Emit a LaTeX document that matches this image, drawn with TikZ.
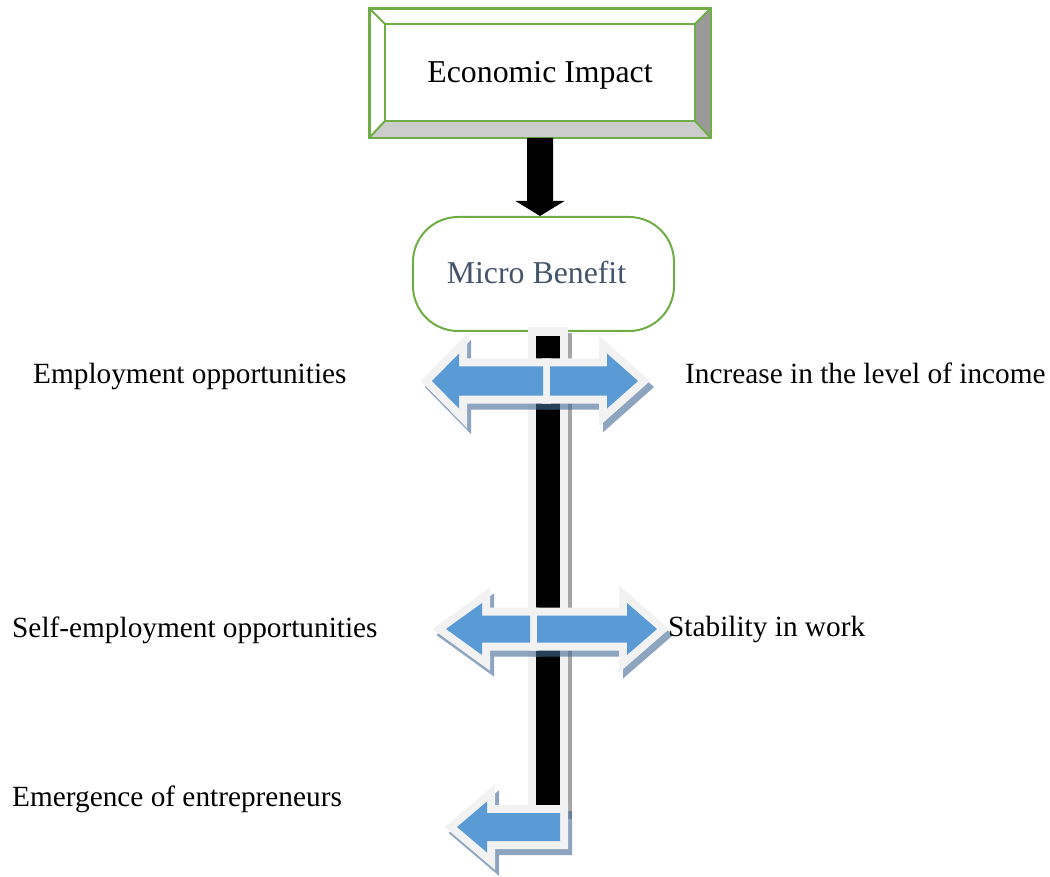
\documentclass[tikz,border=0pt]{standalone}
\usepackage{fontspec}
\setmainfont{Liberation Serif}
\usetikzlibrary{calc}
\definecolor{grn}{HTML}{70AD47}
\definecolor{blu}{HTML}{5B9BD5}
\definecolor{pale}{HTML}{F2F2F2}
\definecolor{shd}{RGB}{67,105,148}
\definecolor{slate}{HTML}{44546A}
\definecolor{bevdark}{HTML}{999999}
\definecolor{bevlight}{HTML}{CCCCCC}
\definecolor{barshd}{HTML}{A6A6A6}
\tikzset{
  arrshape/.style n args={6}{insert path={(#1,#4) -- (#2,{#4-#5}) -- (#2,{#4-#6}) -- (#3,{#4-#6}) -- (#3,{#4+#6}) -- (#2,{#4+#6}) -- (#2,{#4+#5}) -- cycle}},
  lbl/.style={inner sep=0pt, anchor=base west, font=\fontsize{29.3}{34}\selectfont},
  econbox/.style={draw=grn, line width=2pt, minimum width=340pt, minimum height=128pt, inner sep=0pt, text height=25pt, text depth=5pt, font=\fontsize{31.8}{36}\selectfont},
  microbox/.style={draw=grn, line width=2pt, rectangle, rounded corners=45pt, minimum width=261pt, minimum height=114pt, inner sep=0pt, text height=25pt, text depth=5pt, text=slate, font=\fontsize{31.8}{36}\selectfont},
  outl/.style={draw=pale, line width=16pt, miter limit=10, line join=miter},
  shdpath/.style={fill=shd, draw=shd, line width=16pt, line join=miter},
}
\begin{document}
\begin{tikzpicture}[x=1pt,y=-1pt]
\useasboundingbox (0,0) rectangle (1050,877);
% top box
\node[econbox] (econ) at (540,73) {Economic Impact};
\coordinate (oNW) at (econ.north west);
\coordinate (oNE) at (econ.north east);
\coordinate (oSE) at (econ.south east);
\coordinate (oSW) at (econ.south west);
\coordinate (iNW) at ($(oNW)+(16,16)$);
\coordinate (iNE) at ($(oNE)+(-16,16)$);
\coordinate (iSE) at ($(oSE)+(-16,-17)$);
\coordinate (iSW) at ($(oSW)+(16,-17)$);
\fill[bevdark] (oNE) -- (oSE) -- (iSE) -- (iNE) -- cycle;
\fill[bevlight] (oSW) -- (oSE) -- (iSE) -- (iSW) -- cycle;
\draw[grn, line width=2pt] (iNW) rectangle (iSE);
\draw[grn, line width=2pt] (oNW) -- (iNW) (oNE) -- (iNE) (oSE) -- (iSE) (oSW) -- (iSW);
\draw[grn, line width=2pt] (oNW) rectangle (oSE);
% micro benefit
\node[microbox] (micro) at (543.5,274) {\hspace*{-14pt}Micro Benefit};
% black arrow
\fill[black] ([xshift=-13pt]econ.south) -- ([xshift=13pt]econ.south) -- ($(econ.south)+(13,63)$) -- ($(econ.south)+(24.5,63)$) -- (econ.south |- micro.north) -- ($(econ.south)+(-24.5,63)$) -- ($(econ.south)+(-13,63)$) -- cycle;
% vertical bar
\fill[barshd] (532,333) rectangle (572,819);
\fill[pale] (528,327) rectangle (568,813);
\fill[black] (536,336) rectangle (560,805);
% arrow shadows
\begin{scope}[transparency group, opacity=0.6]
\begin{scope}[shift={(4,6)}]
\path[shdpath, arrshape={432}{459}{543}{381}{27.5}{14.5}];
\path[shdpath, arrshape={638}{607}{550}{381}{27.5}{14.5}];
\path[shdpath, arrshape={446}{482}{530}{629}{26}{13.5}];
\path[shdpath, arrshape={657}{627}{537}{629}{26}{13.5}];
\path[shdpath, arrshape={457}{487}{560}{827}{25.5}{14}];
\end{scope}
\end{scope}
% outlines
\path[outl, arrshape={432}{459}{543}{381}{27.5}{14.5}];
\path[outl, arrshape={638}{607}{550}{381}{27.5}{14.5}];
\path[outl, arrshape={446}{482}{530}{629}{26}{13.5}];
\path[outl, arrshape={657}{627}{537}{629}{26}{13.5}];
\path[outl, arrshape={457}{487}{560}{827}{25.5}{14}];
% fills
\fill[blu, arrshape={432}{459}{543}{381}{27.5}{14.5}];
\fill[blu, arrshape={638}{607}{550}{381}{27.5}{14.5}];
\fill[blu, arrshape={446}{482}{530}{629}{26}{13.5}];
\fill[blu, arrshape={657}{627}{537}{629}{26}{13.5}];
\fill[blu, arrshape={457}{487}{560}{827}{25.5}{14}];
% labels
\node[lbl] (l1) at (33,384) {Employment opportunities};
\node[lbl] (r1) at (685,384) {Increase in the level of income};
\node[lbl] (l2) at (12,637) {Self-employment opportunities};
\node[lbl] (r2) at (668,636) {Stability in work};
\node[lbl] (l3) at (12,806) {Emergence of entrepreneurs};
\end{tikzpicture}
\end{document}
